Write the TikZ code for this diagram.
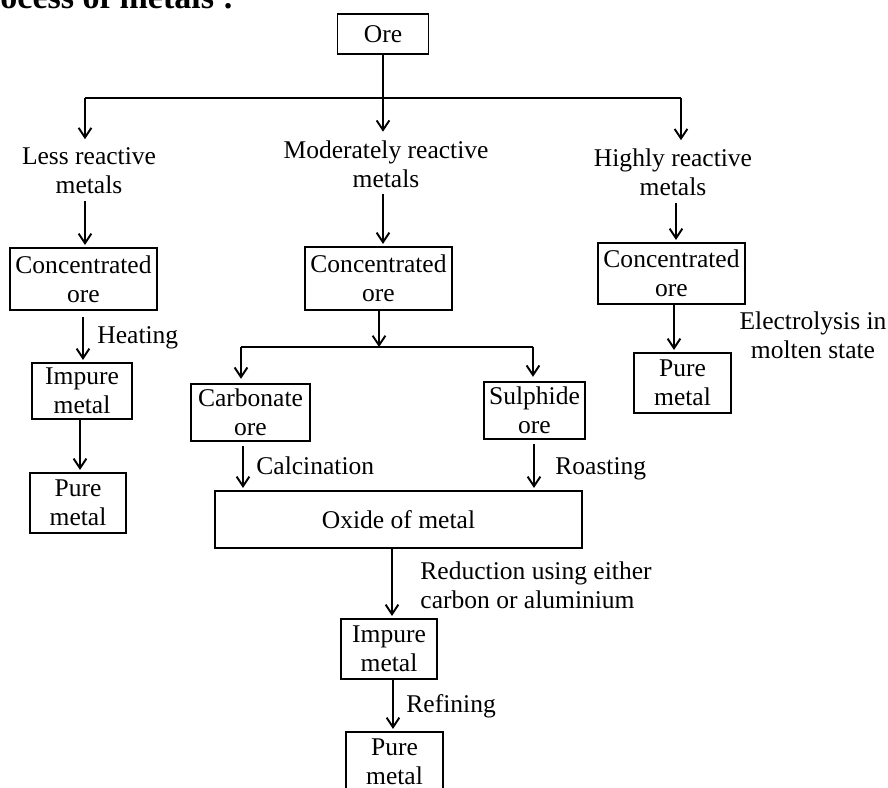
\documentclass[tikz,border=0pt]{standalone}
\usepackage{fontspec}
\setmainfont{Liberation Serif}
\usetikzlibrary{arrows.meta}
\newcommand\pxu{0.47pt}

\begin{document}
\begin{tikzpicture}[x=0.47pt, y=-0.47pt,
	font=\fontsize{12}{13.5}\selectfont,
	box/.style 2 args={draw, line width=0.9pt, align=center, inner sep=0pt,
		minimum width=#1*\pxu, minimum height=#2*\pxu},
	lbl/.style={align=center, inner sep=3pt},
	side/.style={inner sep=0pt, align=left},
	arr/.style={line width=0.9pt, -{Straight Barb[length=4.5pt,width=6pt]}, shorten >=1pt},
	bar/.style={line width=0.9pt}]
	\useasboundingbox (0,0) rectangle (888,787);
	\node[side, anchor=base west, font=\fontsize{16}{18}\selectfont\bfseries] (title) at (0,8) {ocess of metals :};
	
	\node[box={91}{40}] (ore) at (383,34) {Ore};
	\node[lbl] (less) at (89,171) {Less reactive\\metals};
	\node[lbl] (mod) at (386,164) {Moderately reactive\\metals};
	\node[lbl] (high) at (673,172.5) {Highly reactive\\metals};
	\coordinate (barL) at (85,98);
	\coordinate (barR) at (681,98);
	\draw[bar] (barL) -- (barR);
	\draw[arr] (ore) -- (ore |- mod.north);
	\draw[arr] (barL) -- (barL |- less.north);
	\draw[arr] (barR) -- (barR |- high.north);
	
	\node[box={147}{62}] (lessConc) at (83.5,279) {Concentrated\\ore};
	\node[box={100}{56}] (lessImp) at (82,391) {Impure\\metal};
	\node[box={96}{60}] (lessPure) at (78,503) {Pure\\metal};
	\draw[arr] (85,0 |- less.south) -- (85,0 |- lessConc.north);
	\draw[arr, shorten <=3pt] (83,0 |- lessConc.south) -- (83,0 |- lessImp.north);
	\node[side, anchor=base west] (heat) at (97,343) {Heating};
	\draw[arr] (80,0 |- lessImp.south) -- (80,0 |- lessPure.north);
	
	\node[box={147}{63}] (modConc) at (378.5,278.5) {Concentrated\\ore};
	\draw[arr] (383,0 |- mod.south) -- (383,0 |- modConc.north);
	\coordinate (brL) at (241,347);
	\coordinate (brR) at (533,347);
	\draw[arr, shorten >=0pt] (379,0 |- modConc.south) -- (379,0 |- brL);
	\draw[bar] (brL) -- (brR);
	\node[box={119}{57}] (carb) at (250.5,412.5) {Carbonate\\ore};
	\node[box={101}{57}] (sulph) at (534.5,410.5) {Sulphide\\ore};
	\draw[arr, shorten >=2pt] (brL) -- (brL |- carb.north);
	\draw[arr, shorten >=2pt] (brR) -- (brR |- sulph.north);
	\node[box={367}{57}] (oxide) at (398.5,519.5) {Oxide of metal};
	\draw[arr, shorten <=2pt] (243,0 |- carb.south) -- (243,0 |- oxide.north);
	\node[side, anchor=base west] (calc) at (256,474) {Calcination};
	\draw[arr, shorten <=2pt] (534,0 |- sulph.south) -- (534,0 |- oxide.north);
	\node[side, anchor=base west] (roast) at (555,474) {Roasting};
	\node[box={96}{60}] (modImp) at (389,649) {Impure\\metal};
	\draw[arr] (392,0 |- oxide.south) -- (392,0 |- modImp.north);
	\node[side, anchor=west] (reduc) at (420,585.5) {Reduction using either\\carbon or aluminium};
	\node[box={97}{60}] (modPure) at (394.5,762) {Pure\\metal};
	\draw[arr] (393,0 |- modImp.south) -- (393,0 |- modPure.north);
	\node[side, anchor=base west] (refine) at (406,712) {Refining};
	
	\node[box={147}{61}] (highConc) at (671.5,273.5) {Concentrated\\ore};
	\node[box={97}{60}] (highPure) at (682.5,383) {Pure\\metal};
	\draw[arr] (676,0 |- high.south) -- (676,0 |- highConc.north);
	\draw[arr] (674,0 |- highConc.south) -- (674,0 |- highPure.north);
	\node[lbl] (electro) at (813,335) {Electrolysis in\\molten state};
\end{tikzpicture}
\end{document}
